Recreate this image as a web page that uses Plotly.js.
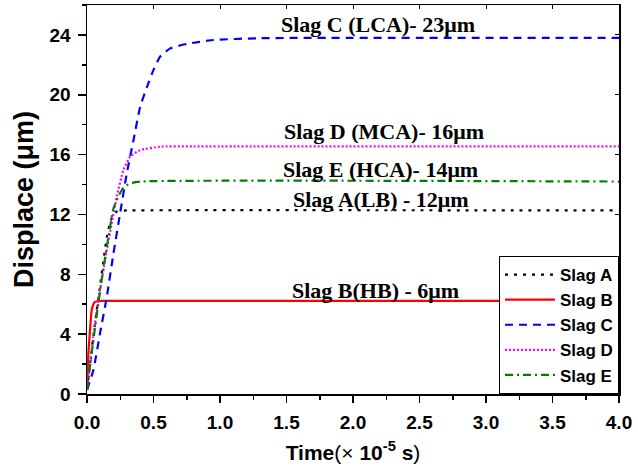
<!DOCTYPE html>
<html>
<head>
<meta charset="utf-8">
<script src="https://cdn.plot.ly/plotly-3.0.1.min.js"></script>
<style>html,body{margin:0;padding:0;background:#fff;}#chart{width:638px;height:468px;}</style>
</head>
<body>
<div id="chart"></div>
<script>
// ---- data ----
const seriesNames = ["Slag A", "Slag B", "Slag C", "Slag D", "Slag E"];

const timeA = [0, 0.023, 0.05, 0.075, 0.098, 0.125, 0.149, 0.175, 0.199, 0.224, 0.26, 0.3, 4.0];
const slagA = [0.3, 2.05, 4.0, 5.7, 7.2, 9.0, 10.5, 11.5, 12.0, 12.2, 12.25, 12.27, 12.27];

const timeB = [0, 0.005, 0.01, 0.023, 0.035, 0.048, 0.06, 0.075, 0.1, 4.0];
const slagB = [0.5, 1.6, 2.7, 4.3, 5.6, 6.0, 6.15, 6.2, 6.23, 6.23];

const timeC = [0, 0.048, 0.098, 0.149, 0.199, 0.249, 0.299, 0.35, 0.40, 0.45, 0.50, 0.55, 0.626, 0.752, 0.953, 1.3, 4.0];
const slagC = [0.27, 1.6, 4.06, 6.5, 9.4, 12.08, 14.75, 16.98, 19.2, 20.5, 21.66, 22.55, 23.1, 23.4, 23.66, 23.78, 23.8];

const timeD = [0, 0.073, 0.149, 0.224, 0.274, 0.325, 0.4, 0.55, 0.8, 4.0];
const slagD = [0.27, 5.6, 9.63, 13.2, 14.97, 15.87, 16.3, 16.53, 16.55, 16.55];

const timeE = [0, 0.048, 0.1, 0.161, 0.199, 0.236, 0.274, 0.325, 0.4, 4.0];
const slagE = [0.3, 3.6, 7.0, 10.5, 12.4, 13.2, 13.8, 14.08, 14.2, 14.2];

const annotationTexts = ["Slag C (LCA)- 23μm", "Slag D (MCA)- 16μm", "Slag E (HCA)- 14μm", "Slag A(LB) - 12μm", "Slag B(HB) - 6μm"];
const annotationX = [2.19, 2.23, 2.21, 2.21, 2.17];
const annotationY = [24.7, 17.53, 15.02, 13.01, 6.95];

const xTickVals = [0, 0.5, 1, 1.5, 2, 2.5, 3, 3.5, 4];
const xTickText = ["0.0", "0.5", "1.0", "1.5", "2.0", "2.5", "3.0", "3.5", "4.0"];
const yTickVals = [0, 4, 8, 12, 16, 20, 24];

// ---- styles ----
const sans = "Liberation Sans, Arial, sans-serif";
const serif = "Liberation Serif, Times New Roman, serif";
const styles = [
  {color: "#000000", dash: "3px,6px"},
  {color: "#ff0000", dash: "solid"},
  {color: "#0000ff", dash: "8px,6px"},
  {color: "#ff00ff", dash: "2px,2px"},
  {color: "#008000", dash: "8px,4px,2px,4px"}
];
const xs = [timeA, timeB, timeC, timeD, timeE];
const ys = [slagA, slagB, slagC, slagD, slagE];

const traces = seriesNames.map((n, i) => ({
  type: "scatter", mode: "lines", name: n,
  x: xs[i], y: ys[i],
  line: {color: styles[i].color, dash: styles[i].dash, width: 2.2, shape: "spline", smoothing: 0.5}
}));
// empty helper trace so the top/right frame axes get drawn
traces.push({type: "scatter", mode: "lines", x: [], y: [], xaxis: "x2", yaxis: "y2", showlegend: false, hoverinfo: "skip"});

const tickFont = {family: sans, size: 19, color: "#000", weight: "bold"};

const layout = {
  width: 638, height: 468,
  margin: {l: 87, r: 19, t: 5, b: 74},
  paper_bgcolor: "#fff", plot_bgcolor: "#fff",
  showlegend: true,
  xaxis: {
    range: [0, 4], tickvals: xTickVals, ticktext: xTickText,
    ticks: "outside", ticklen: 7, tickwidth: 1.5, tickcolor: "#000",
    minor: {ticks: "outside", dtick: 0.25, tick0: 0, ticklen: 4, tickwidth: 1.5, tickcolor: "#000"},
    showline: true, linecolor: "#000", linewidth: 1.5, mirror: true,
    showgrid: false, zeroline: false, tickfont: tickFont, ticklabelstandoff: 4,
    title: {text: "<b>Time</b>(× <b>10<sup>-5</sup> s</b>)", font: {family: sans, size: 21, color: "#000"}, standoff: 13}
  },
  yaxis: {
    range: [0, 26], tickvals: yTickVals,
    ticks: "outside", ticklen: 8, tickwidth: 1.5, tickcolor: "#000",
    minor: {ticks: "outside", dtick: 2, tick0: 0, ticklen: 4, tickwidth: 1.5, tickcolor: "#000"},
    showline: true, linecolor: "#000", linewidth: 1.5, mirror: true,
    showgrid: false, zeroline: false, tickfont: tickFont, ticklabelstandoff: 3,
    title: {text: "Displace (μm)", font: {family: sans, size: 27, color: "#000", weight: "bold"}, standoff: 8}
  },
  xaxis2: {
    overlaying: "x", side: "top", range: [0, 4], dtick: 0.5, tick0: 0,
    ticks: "inside", ticklen: 4, tickwidth: 1, tickcolor: "#000",
    showticklabels: false, showgrid: false, zeroline: false, showline: false
  },
  yaxis2: {
    overlaying: "y", side: "right", range: [0, 26], dtick: 4, tick0: 0,
    ticks: "inside", ticklen: 4, tickwidth: 1, tickcolor: "#000",
    showticklabels: false, showgrid: false, zeroline: false, showline: false
  },
  legend: {
    x: 1, xanchor: "right", y: 0, yanchor: "bottom",
    bgcolor: "#fff", bordercolor: "#000", borderwidth: 1,
    font: {family: sans, size: 17, color: "#000", weight: "bold"},
    tracegroupgap: 0, itemwidth: 50
  },
  annotations: annotationTexts.map((t, i) => ({
    text: t, x: annotationX[i], y: annotationY[i], xref: "x", yref: "y",
    showarrow: false, xanchor: "center", yanchor: "middle",
    font: {family: serif, size: 22, color: "#000", weight: "bold"}
  }))
};

Plotly.newPlot("chart", traces, layout, {staticPlot: true, displayModeBar: false});
</script>
</body>
</html>
